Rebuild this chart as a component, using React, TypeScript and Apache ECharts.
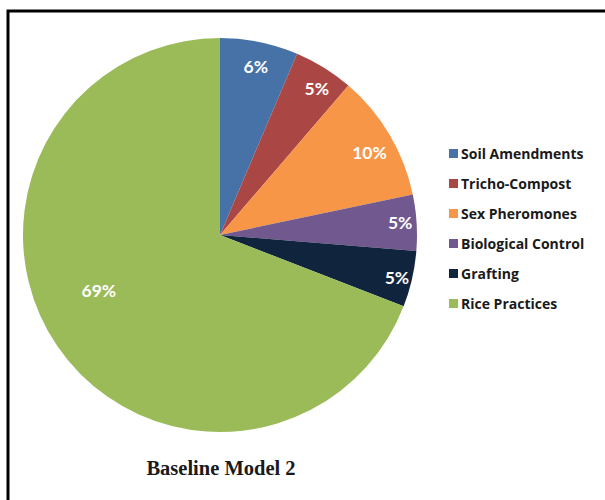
import React, { useEffect, useRef } from "react";
import * as echarts from "echarts";

const categories = [
  "Soil Amendments",
  "Tricho-Compost",
  "Sex Pheromones",
  "Biological Control",
  "Grafting",
  "Rice Practices",
];
const values = [6.4, 4.9, 10.4, 4.6, 4.6, 69.1];
const colors = ["#4672A8", "#AA4643", "#F79646", "#71588F", "#10243E", "#9BBB59"];
const titleText = "Baseline Model 2";
const labelOffsets = [[0, 7], [2, 6], [-5, 9], [1, -1], [2, 2], [27, -46]];

export default function App() {
  const ref = useRef<HTMLDivElement>(null);
  useEffect(() => {
    if (!ref.current) return;
    const chart = echarts.init(ref.current, null, { renderer: "svg" });
    const data = categories.map((name, i) => ({
      name,
      value: values[i],
      itemStyle: { color: colors[i] },
    }));
    const labelData = categories.map((name, i) => ({
      name,
      value: values[i],
      itemStyle: { color: "rgba(0,0,0,0)" },
      label: { offset: labelOffsets[i] },
    }));
    chart.setOption({
      animation: false,
      backgroundColor: "#ffffff",
      legend: {
        orient: "vertical",
        left: 444,
        top: 139,
        itemWidth: 9,
        itemHeight: 9,
        itemGap: 11,
        icon: "rect",
        data: categories,
        textStyle: {
          fontFamily: "Open Sans",
          fontWeight: "bold",
          fontSize: 14,
          lineHeight: 19,
          color: "#1a1a1a",
          padding: [0, 0, 0, -2],
        },
      },
      graphic: [
        {
          type: "rect",
          shape: { x: 8, y: 11, width: 610, height: 510 },
          style: { fill: "none", stroke: "#000", lineWidth: 3 },
          silent: true,
        },
        {
          type: "text",
          x: 221,
          y: 468,
          style: {
            text: titleText,
            fontFamily: "Liberation Serif",
            fontWeight: "bold",
            fontSize: 20.5,
            fill: "#1a1a1a",
            align: "center",
            verticalAlign: "middle",
          },
        },
      ],
      series: [
        {
          type: "pie",
          center: [220, 235],
          radius: [0, 197],
          startAngle: 90,
          clockwise: true,
          data,
          label: { show: false },
          labelLine: { show: false },
          itemStyle: { borderWidth: 0 },
          silent: true,
        },
        {
          type: "pie",
          center: [220, 235],
          radius: [156, 197],
          startAngle: 90,
          clockwise: true,
          percentPrecision: 0,
          data: labelData,
          silent: true,
          labelLine: { show: false },
          label: {
            show: true,
            position: "inside",
            formatter: "{d}%",
            color: "#ffffff",
            fontFamily: "Lato",
            fontWeight: "bold",
            fontSize: 17.5,
          },
        },
      ],
    });
    return () => chart.dispose();
  }, []);
  return (
    <div
      ref={ref}
      style={{ position: "fixed", left: 0, top: 0, width: 605, height: 500 }}
    />
  );
}
